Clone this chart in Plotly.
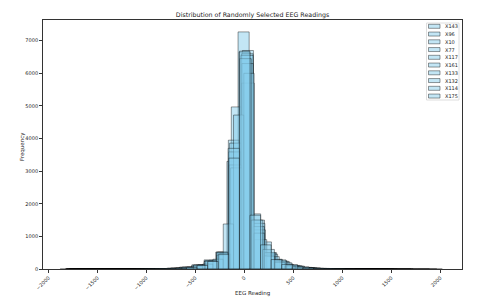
import plotly.graph_objects as go

# ---- data ----
series_names = ["X143", "X96", "X10", "X77", "X117", "X161", "X133", "X132", "X114", "X175"]
# each series: 30 equal bins between its min and max
series_lo = [-1880, -1828, -1813, -1710, -1785, -1819, -1750, -1790, -1817, -1778]
series_hi = [1525, 1562, 1487, 1890, 1965, 2021, 1700, 1360, 1723, 1462]

counts_X143 = [1,0,0,0,1,1,2,3,6,12,25,55,120,260,520,3300,7270,1500,560,270,130,60,28,12,6,3,2,1,0,1]
counts_X96 = [1,0,1,0,1,1,2,4,7,13,28,60,130,270,500,4970,6700,1500,480,250,120,55,25,12,5,3,1,1,0,1]
counts_X10 = [1,0,0,1,0,1,2,3,6,12,25,55,120,250,520,3950,6650,1690,830,300,150,70,32,15,7,3,2,1,0,1]
counts_X77 = [1,0,0,1,1,2,5,10,22,50,110,240,480,3860,6600,1400,500,240,110,50,24,11,5,3,2,1,1,0,0,1]
counts_X117 = [1,1,0,1,2,3,6,13,28,60,130,280,520,3590,6550,1200,450,220,100,45,20,9,4,2,1,1,0,0,0,1]
counts_X161 = [1,0,0,1,1,2,4,9,20,45,100,230,420,3190,5700,900,380,190,90,40,18,8,4,2,1,1,0,0,0,1]
counts_X133 = [1,1,0,0,1,1,2,5,10,22,50,110,240,460,3100,6300,1300,500,240,110,50,22,10,5,2,1,1,0,0,1]
counts_X132 = [1,0,0,0,0,1,1,2,3,7,15,32,70,150,300,1380,4720,6000,1100,400,200,90,40,18,8,4,2,1,0,1]
counts_X114 = [1,0,0,0,1,1,3,5,12,25,55,120,250,500,3700,6450,1500,600,280,130,60,28,12,6,3,1,1,0,0,1]
counts_X175 = [1,0,0,1,0,1,1,2,5,10,22,50,110,230,450,3400,6680,1650,740,290,140,65,30,14,6,3,1,1,0,1]

all_counts = [counts_X143, counts_X96, counts_X10, counts_X77, counts_X117,
              counts_X161, counts_X133, counts_X132, counts_X114, counts_X175]
n_bins = 30

x_ticks = [-2000, -1500, -1000, -500, 0, 500, 1000, 1500, 2000]
x_tick_labels = ["\u22122000", "\u22121500", "\u22121000", "\u2212500", "0", "500", "1000", "1500", "2000"]
y_ticks = [0, 1000, 2000, 3000, 4000, 5000, 6000, 7000]

FILL = "rgba(135,206,235,0.5)"
EDGE = "rgba(0,0,0,0.5)"
FONT = "DejaVu Sans"

# the page body has an 8px default margin, so the figure is 8px smaller
OFF = 8
W, H = 480 - OFF, 307 - OFF
PL, PR, PT, PB = 43, 462, 20, 269          # plot box in window pixels
L, R, T, B = PL - OFF, W - (PR - OFF), PT - OFF, H - (PB - OFF)
PW, PH = PR - PL, PB - PT

fig = go.Figure()
for name, lo, hi, cnt in zip(series_names, series_lo, series_hi, all_counts):
    w = (hi - lo) / n_bins
    edges = [lo + w * i for i in range(n_bins)]
    fig.add_trace(go.Bar(
        x=edges, y=cnt, width=w, offset=0, name=name,
        marker=dict(color=FILL, line=dict(color=EDGE, width=0.8)),
        showlegend=False,
    ))

# window pixel -> paper coords
def px(xp):
    return (xp - PL) / PW
def py(yp):
    return (PB - yp) / PH

shapes = [dict(type="rect", xref="paper", yref="paper",
               x0=px(426.5), x1=px(459), y0=py(23), y1=py(100),
               line=dict(color="#d6d6d6", width=0.8), fillcolor="rgba(255,255,255,0.8)", layer="above")]
annotations = []
for i, name in enumerate(series_names):
    yc = 26.3 + i * 7.75
    shapes.append(dict(type="rect", xref="paper", yref="paper",
                       x0=px(428.5), x1=px(440), y0=py(yc + 2), y1=py(yc - 2),
                       fillcolor=FILL, line=dict(color=EDGE, width=0.8), layer="above"))
    annotations.append(dict(xref="paper", yref="paper", x=px(443), y=py(yc),
                            text=name, showarrow=False, xanchor="left", yanchor="middle",
                            font=dict(family=FONT, size=5, color="#222")))

annotations.append(dict(xref="paper", yref="paper", x=0.5, y=py(293), text="EEG Reading",
                        showarrow=False, xanchor="center", yanchor="middle",
                        font=dict(family=FONT, size=5.5, color="#222")))
annotations.append(dict(xref="paper", yref="paper", x=px(22), y=py(147), text="Frequency",
                        showarrow=False, xanchor="center", yanchor="middle", textangle=-90,
                        font=dict(family=FONT, size=5.5, color="#222")))

fig.update_layout(
    width=W, height=H,
    margin=dict(l=L, r=R, t=T, b=B, autoexpand=False),
    paper_bgcolor="white", plot_bgcolor="white",
    barmode="overlay",
    font=dict(family=FONT, size=5, color="#222"),
    title=dict(text="Distribution of Randomly Selected EEG Readings",
               x=(PL - OFF + PW / 2) / W, xanchor="center", y=1 - (15 - OFF) / H, yanchor="middle",
               font=dict(family=FONT, size=6.3, color="#222")),
    shapes=shapes, annotations=annotations,
    xaxis=dict(range=[-2055, 2222], tickvals=x_ticks, ticktext=x_tick_labels,
               tickangle=-45, ticks="outside", ticklen=3, tickwidth=0.7, tickcolor="#333",
               showgrid=False, zeroline=False, showline=True, mirror=True,
               linecolor="#333", linewidth=0.8, automargin=False,
               tickfont=dict(family=FONT, size=5, color="#222")),
    yaxis=dict(range=[0, 7635], tickvals=y_ticks, ticks="outside", ticklen=3, tickwidth=0.7,
               tickcolor="#333", showgrid=False, zeroline=False, showline=True, mirror=True,
               linecolor="#333", linewidth=0.8, automargin=False,
               tickfont=dict(family=FONT, size=5, color="#222")),
)

fig.write_html("out.html")
